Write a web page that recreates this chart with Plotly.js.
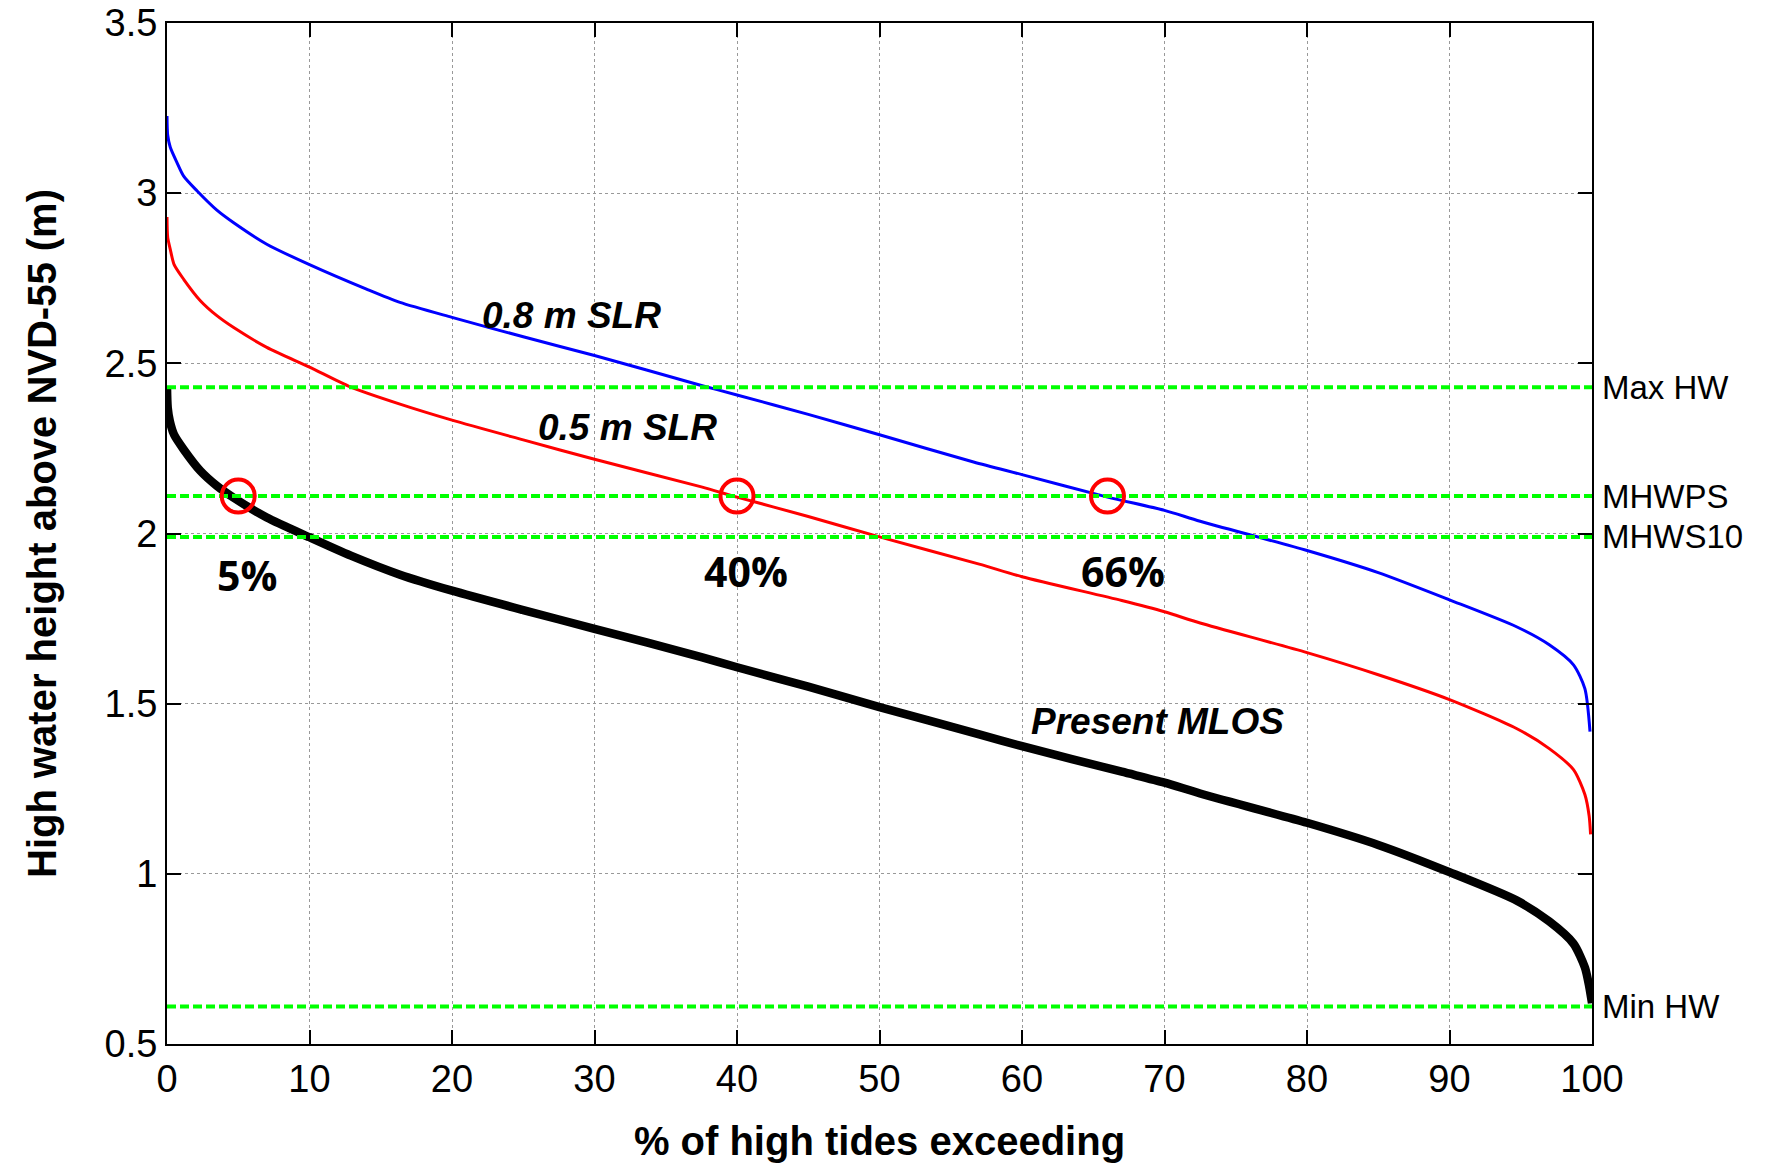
<!DOCTYPE html>
<html>
<head>
<meta charset="utf-8">
<script src="https://cdn.plot.ly/plotly-3.0.1.min.js"></script>
<style>
html,body{margin:0;padding:0;background:#fff;}
#chart{width:1768px;height:1164px;}
</style>
</head>
<body>
<div id="chart"></div>
<script>
// Present MLOS (black)
var presentX = [0, 0.05, 0.2, 0.5, 1.17, 2.34, 3.5, 4.68, 7, 10, 12.9, 16.35, 20, 25, 30, 37.5, 40, 45, 50, 57, 60, 67, 70, 72.5, 80, 85, 90, 94.7, 97, 98.7, 99.5, 99.8, 100];
var presentY = [2.43, 2.37, 2.33, 2.29, 2.247, 2.184, 2.14, 2.105, 2.047, 1.989, 1.935, 1.879, 1.832, 1.775, 1.72, 1.637, 1.607, 1.55, 1.49, 1.41, 1.375, 1.30, 1.268, 1.236, 1.15, 1.085, 1.005, 0.922, 0.86, 0.795, 0.725, 0.67, 0.62];

// 0.5 m SLR (red)
var slr05X = [0, 0.05, 0.23, 0.5, 1.17, 2.34, 3.5, 4.68, 7, 10, 12.9, 16.35, 20, 25, 30, 37.5, 40, 45, 50, 57, 60, 67, 70, 72.5, 80, 85, 90, 94.7, 97, 98.7, 99.5, 99.8, 99.9];
var slr05Y = [2.93, 2.87, 2.835, 2.79, 2.747, 2.684, 2.64, 2.605, 2.547, 2.489, 2.43, 2.38, 2.333, 2.275, 2.218, 2.137, 2.107, 2.05, 1.99, 1.91, 1.873, 1.803, 1.77, 1.737, 1.65, 1.585, 1.512, 1.427, 1.368, 1.306, 1.233, 1.17, 1.116];

// 0.8 m SLR (blue)
var slr08X = [0, 0.05, 0.23, 0.7, 1.17, 2.1, 3.5, 4.68, 7, 10, 14, 16.35, 20, 25, 30, 37.5, 40, 45, 50, 56.6, 60, 66, 70, 72.5, 80, 85, 90, 94.7, 97, 98.7, 99.5, 99.86];
var slr08Y = [3.227, 3.17, 3.135, 3.09, 3.05, 3.007, 2.95, 2.913, 2.85, 2.79, 2.718, 2.679, 2.635, 2.578, 2.523, 2.435, 2.407, 2.35, 2.29, 2.21, 2.173, 2.107, 2.068, 2.036, 1.95, 1.885, 1.805, 1.726, 1.673, 1.614, 1.544, 1.418];

// Reference levels (green dashed)
var refNames = ["Max HW", "MHWPS", "MHWS10", "Min HW"];
var refLevels = [2.43, 2.11, 1.99, 0.61];
var xSpan = [0, 100];

// Highlighted crossings
var markX = [5, 40, 66];
var markY = [2.11, 2.11, 2.11];
var markLabels = ["5%", "40%", "66%"];
var markLabelY = [1.878, 1.89, 1.89];
var markLabelX = [5.6, 40.6, 67.1];

// Curve labels
var curveLabels = ["0.8 m SLR", "0.5 m SLR", "Present MLOS"];
var curveLabelX = [28.4, 32.3, 69.5];
var curveLabelY = [2.641, 2.312, 1.447];

// Axis ticks
var yTicks = [0.5, 1, 1.5, 2, 2.5, 3, 3.5];
var xTicks = [0, 10, 20, 30, 40, 50, 60, 70, 80, 90, 100];

var curveLine = function(color, width) {
  return {color: color, width: width, shape: 'spline', smoothing: 0.7};
};

var traces = [
  {x: slr08X, y: slr08Y, type: 'scatter', mode: 'lines', line: curveLine('#0000ff', 3), hoverinfo: 'skip'},
  {x: slr05X, y: slr05Y, type: 'scatter', mode: 'lines', line: curveLine('#ff0000', 3), hoverinfo: 'skip'},
  {x: presentX, y: presentY, type: 'scatter', mode: 'lines', line: curveLine('#000000', 8.5), hoverinfo: 'skip'}
];
refLevels.forEach(function(v) {
  traces.push({x: xSpan, y: [v, v], type: 'scatter', mode: 'lines',
    line: {color: '#00ff00', width: 4, dash: '9px,4px'}, hoverinfo: 'skip'});
});
traces.push({x: markX, y: markY, type: 'scatter', mode: 'markers',
  marker: {symbol: 'circle-open', size: 33, color: '#ff0000', line: {color: '#ff0000', width: 4}}, hoverinfo: 'skip'});

var annotations = [];
refNames.forEach(function(n, i) {
  annotations.push({text: n, xref: 'paper', x: 1, xanchor: 'left', xshift: 8, yref: 'y', y: refLevels[i],
    yanchor: 'middle', showarrow: false, font: {family: 'Liberation Sans, Arial', size: 33, color: '#000'}});
});
markLabels.forEach(function(t, i) {
  annotations.push({text: t, xref: 'x', yref: 'y', x: markLabelX[i], y: markLabelY[i], showarrow: false,
    xanchor: 'center', yanchor: 'middle',
    font: {family: 'Open Sans, Noto Sans', size: 41, color: '#000', weight: 'bold'}});
});
curveLabels.forEach(function(t, i) {
  annotations.push({text: t, xref: 'x', yref: 'y', x: curveLabelX[i], y: curveLabelY[i], showarrow: false,
    xanchor: 'center', yanchor: 'middle',
    font: {family: 'Liberation Sans, Arial', size: 37, color: '#000', weight: 'bold', style: 'italic'}});
});

var axisCommon = {
  showline: true, linecolor: '#000', linewidth: 2, mirror: 'ticks',
  ticks: 'inside', ticklen: 14, tickwidth: 2, tickcolor: '#000',
  showgrid: true, gridcolor: '#999999', gridwidth: 1, griddash: 'dot',
  zeroline: false, ticklabeloverflow: 'allow',
  tickfont: {family: 'Liberation Sans, Arial', size: 38, color: '#000'}
};

var layout = {
  width: 1768, height: 1164,
  margin: {l: 167, r: 176, t: 23, b: 120},
  paper_bgcolor: '#fff', plot_bgcolor: '#fff',
  showlegend: false,
  xaxis: Object.assign({}, axisCommon, {
    range: [0, 100], tickmode: 'array', tickvals: xTicks,
    title: {text: '% of high tides exceeding', standoff: 28,
      font: {family: 'Liberation Sans, Arial', size: 40, color: '#000', weight: 'bold'}}
  }),
  yaxis: Object.assign({}, axisCommon, {
    range: [0.5, 3.5], tickmode: 'array', tickvals: yTicks,
    title: {text: 'High water height above NVD-55 (m)', standoff: 36,
      font: {family: 'Liberation Sans, Arial', size: 40, color: '#000', weight: 'bold'}}
  }),
  annotations: annotations
};

Plotly.newPlot('chart', traces, layout, {displayModeBar: false, staticPlot: true});
</script>
</body>
</html>
